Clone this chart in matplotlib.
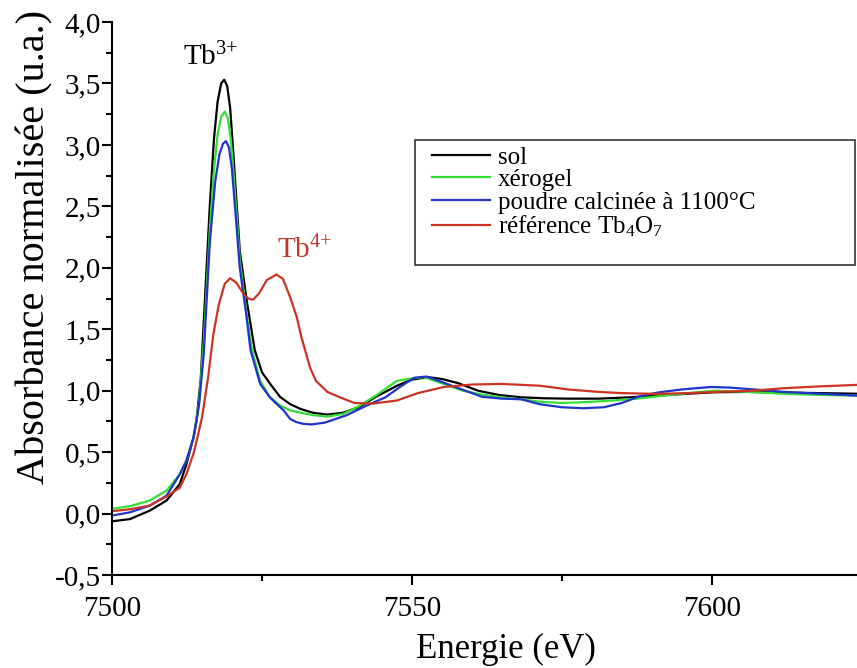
import matplotlib
matplotlib.use("Agg")
import matplotlib.pyplot as plt
from matplotlib.ticker import MultipleLocator, FuncFormatter
from matplotlib.patches import Rectangle

plt.rcParams['font.family'] = ['Liberation Serif', 'DejaVu Serif']
plt.rcParams['mathtext.fontset'] = 'custom'
plt.rcParams['mathtext.rm'] = 'Liberation Serif'

# sol (black)
sol_x = [7500, 7503, 7506.3, 7509.1, 7511.3, 7512.4, 7513.6, 7514.1, 7514.8, 7515.5, 7516.3,
         7517.0, 7517.6, 7518.2, 7518.7, 7519.2, 7519.7, 7520.2, 7521.3, 7522.5, 7523.8, 7525,
         7526.3, 7528, 7529.7, 7531.5, 7533.5, 7535.9, 7538.5, 7541.1, 7544, 7547.5, 7550,
         7552.7, 7555, 7557.8, 7561, 7564.5, 7568.2, 7572, 7576, 7581.1, 7586, 7591, 7596,
         7600.4, 7606, 7612, 7618, 7624.2]
sol_y = [-0.063, -0.045, 0.024, 0.106, 0.24, 0.40, 0.62, 0.76, 1.1, 1.75, 2.5,
         3.05, 3.35, 3.5, 3.53, 3.48, 3.3, 2.95, 2.14, 1.72, 1.33, 1.15,
         1.06, 0.95, 0.89, 0.85, 0.82, 0.805, 0.82, 0.865, 0.95, 1.04, 1.09,
         1.11, 1.095, 1.06, 1.0, 0.965, 0.946, 0.938, 0.935, 0.935, 0.945, 0.96, 0.975,
         0.987, 0.99, 0.985, 0.98, 0.975]

# xérogel (green)
xero_x = [7500, 7503, 7506.3, 7509.1, 7511.3, 7512.4, 7513.6, 7514.5, 7515.3, 7516.3, 7517.0,
          7517.6, 7518.2, 7518.8, 7519.3, 7519.8, 7520.3, 7521.3, 7522.5, 7523.3, 7524.7, 7526.3,
          7528, 7529.7, 7531.5, 7533.6, 7535.9, 7538.5, 7541, 7544, 7547.5, 7550, 7552, 7555,
          7558.5, 7562, 7565, 7568.2, 7571.3, 7575, 7578, 7582, 7587.5, 7592, 7596, 7600.4,
          7606, 7612, 7618, 7624.2]
xero_y = [0.038, 0.06, 0.106, 0.187, 0.32, 0.43, 0.62, 0.9, 1.4, 2.3, 2.8,
          3.08, 3.23, 3.27, 3.22, 3.05, 2.75, 2.07, 1.6, 1.34, 1.08, 0.95,
          0.88, 0.84, 0.82, 0.80, 0.79, 0.81, 0.87, 0.96, 1.08, 1.10, 1.11, 1.06,
          1.0, 0.965, 0.945, 0.93, 0.91, 0.9, 0.905, 0.915, 0.935, 0.96, 0.98, 1.0,
          0.99, 0.975, 0.965, 0.96]

# poudre calcinée (blue)
poudre_x = [7500, 7503, 7506.3, 7509.1, 7511.3, 7512.4, 7513.6, 7514.5, 7515.3, 7516.3, 7517.2,
            7517.9, 7518.5, 7519.0, 7519.5, 7520.0, 7520.5, 7521.3, 7522.3, 7523.1, 7524.7,
            7526.3, 7527.5, 7528.6, 7529.7, 7530.7, 7531.9, 7533.3, 7535.5, 7539.1, 7542.5,
            7545.6, 7548, 7550.4, 7552.4, 7554.5, 7557.2, 7561.7, 7565, 7568.2, 7571.3, 7575,
            7578.6, 7582, 7585, 7588, 7591, 7595, 7599.9, 7603, 7607, 7612, 7618, 7624.2]
poudre_y = [-0.016, 0.01, 0.065, 0.146, 0.32, 0.43, 0.62, 0.88, 1.3, 2.2, 2.7,
            2.92, 3.01, 3.03, 2.98, 2.8, 2.5, 2.0, 1.65, 1.33, 1.055,
            0.946, 0.89, 0.84, 0.77, 0.745, 0.73, 0.725, 0.74, 0.80, 0.88,
            0.946, 1.03, 1.105, 1.115, 1.08, 1.03, 0.95, 0.935, 0.93, 0.89, 0.865,
            0.857, 0.865, 0.9, 0.955, 0.985, 1.01, 1.03, 1.025, 1.01, 0.99, 0.975, 0.96]

# référence Tb4O7 (red)
ref_x = [7500, 7503, 7506.3, 7509.1, 7511.3, 7512.4, 7513.6, 7514.1, 7515, 7516, 7516.9,
         7517.8, 7518.8, 7519.7, 7520.7, 7521.9, 7522.7, 7523.5, 7524.5, 7525.8, 7527.4,
         7528.5, 7529.7, 7530.8, 7531.5, 7533, 7534, 7535.9, 7538, 7540.4, 7543.5, 7547.5,
         7551, 7555.3, 7560, 7564.9, 7571.4, 7576, 7581.1, 7585, 7590.7, 7596, 7601,
         7606.9, 7612, 7618, 7624.2]
ref_y = [0.019, 0.035, 0.065, 0.14, 0.21, 0.32, 0.49, 0.59, 0.78, 1.1, 1.46,
         1.7, 1.87, 1.915, 1.88, 1.79, 1.75, 1.74, 1.79, 1.9, 1.945,
         1.91, 1.76, 1.6, 1.45, 1.19, 1.08, 0.99, 0.946, 0.9, 0.895, 0.92,
         0.98, 1.03, 1.05, 1.055, 1.04, 1.01, 0.99, 0.98, 0.974, 0.98, 0.99,
         1.0, 1.02, 1.035, 1.047]

labels = ["sol", "xérogel", "poudre calcinée à 1100°C",
          r"référence Tb$\mathregular{_4}$O$\mathregular{_7}$"]
colors = ["#000000", "#33dd33", "#2233cc", "#cc3322"]

fig = plt.figure(figsize=(8.57, 6.68), dpi=100)
ax = fig.add_axes([112/857, 93/668, 745/857, 553/668])

series = [(sol_x, sol_y), (xero_x, xero_y), (poudre_x, poudre_y), (ref_x, ref_y)]
for (xs, ys), lab, c in zip(series, labels, colors):
    ax.plot(xs, ys, color=c, lw=1.6, label=lab)

ax.set_xlim(7500, 7624.2)
ax.set_ylim(-0.5, 4.0)

for s in ["top", "right"]:
    ax.spines[s].set_visible(False)
for s in ["left", "bottom"]:
    ax.spines[s].set_linewidth(1.5)

ax.xaxis.set_major_locator(MultipleLocator(50))
ax.xaxis.set_minor_locator(MultipleLocator(25))
ax.yaxis.set_major_locator(MultipleLocator(0.5))
ax.yaxis.set_minor_locator(MultipleLocator(0.25))
ax.yaxis.set_major_formatter(FuncFormatter(lambda v, p: f"{v:.1f}".replace(".", ",")))
ax.tick_params(which="major", length=7, width=1.5, labelsize=21)
ax.tick_params(which="minor", length=4.5, width=1.5)
ax.tick_params(axis="y", pad=1)
ax.tick_params(axis="x", pad=8)

ax.set_xlabel("Energie (eV)", fontsize=25)
ax.xaxis.set_label_coords((506 - 112) / 745, -0.105)
ax.set_ylabel("Absorbance normalisée (u.a.)", fontsize=29)
ax.yaxis.set_label_coords((35 - 112) / 745, 0.593)
ax.yaxis.label.set_va("center")

ax.text(7511.8, 3.645, r"Tb$\mathregular{^{3{+}}}$", fontsize=21, color="black",
        ha="left", va="baseline")
ax.text(7527.5, 2.075, r"Tb$\mathregular{^{4{+}}}$", fontsize=21, color="#c0392b",
        ha="left", va="baseline")

leg = ax.legend(loc="upper left", bbox_to_anchor=((432 - 112) / 745, (575 - 146) / 553),
                frameon=False, fontsize=18, handlelength=2.3, handletextpad=0.33,
                labelspacing=0.0, borderpad=0, borderaxespad=0)
ax.add_patch(Rectangle(((415 - 112) / 745, (575 - 265) / 553), 440 / 745, 125 / 553,
                       transform=ax.transAxes, fill=False, edgecolor="#333333",
                       lw=1.2, clip_on=False))

fig.savefig("out.png", dpi=100)
